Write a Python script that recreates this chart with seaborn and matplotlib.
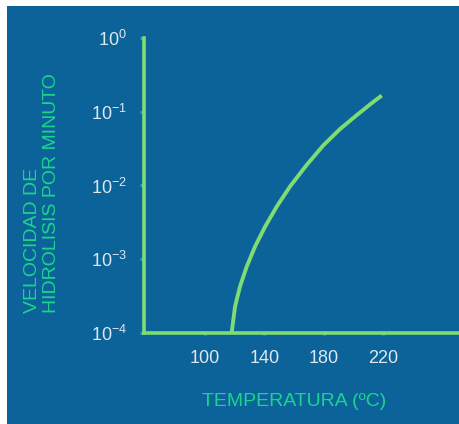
import matplotlib
matplotlib.use("Agg")
import matplotlib.pyplot as plt
import seaborn as sns
import pandas as pd
from matplotlib.patches import Rectangle

# Data
temperatura = [117.9, 120.2, 123.5, 128.0, 133.6, 140.4, 148.2, 157.2,
               168.4, 179.6, 190.8, 202.1, 213.2, 218.9]
velocidad = [1.0e-4, 2.28e-4, 4.25e-4, 7.9e-4, 1.48e-3, 2.76e-3, 5.16e-3, 9.7e-3,
             1.90e-2, 3.50e-2, 5.82e-2, 9.0e-2, 0.136, 0.166]
x_ticks = [100, 140, 180, 220]
y_ticks = [1e-4, 1e-3, 1e-2, 1e-1, 1e0]
y_tick_labels = ["10$^{-4}$", "10$^{-3}$", "10$^{-2}$", "10$^{-1}$", "10$^{0}$"]
x_label = "TEMPERATURA (ºC)"
y_label = "VELOCIDAD DE\nHIDROLISIS POR MINUTO"

df = pd.DataFrame({"T": temperatura, "v": velocidad})

sns.set_style("ticks")
plt.rcParams["font.family"] = ["Liberation Sans", "DejaVu Sans"]
plt.rcParams["mathtext.fontset"] = "custom"
plt.rcParams["mathtext.rm"] = "Liberation Sans"
plt.rcParams["mathtext.it"] = "Liberation Sans"
plt.rcParams["mathtext.default"] = "regular"

BG = "#0c6399"
GREEN = "#7ddc74"
LABEL_GREEN = "#19d68c"
TICK_BLUE = "#1c9fe2"
TEXT = "#dde7ef"

W, H = 459, 424
fig = plt.figure(figsize=(W / 100, H / 100), dpi=100)
fig.patch.set_facecolor("white")
fig.patches.append(Rectangle((7 / W, 0), 1 - 7 / W, (H - 6) / H,
                             transform=fig.transFigure, facecolor=BG,
                             edgecolor="none", zorder=-10))

ax = fig.add_axes([143.5 / W, (H - 333) / H, 1 - 143.5 / W, (333 - 38) / H])
ax.set_facecolor("none")

sns.lineplot(data=df, x="T", y="v", ax=ax, color=GREEN, linewidth=2.8,
             solid_capstyle="butt", solid_joinstyle="round", clip_on=False)

ax.set_yscale("log")
ax.set_xlim(58.6, 270.9)
ax.set_ylim(1e-4, 1)
ax.set_xticks(x_ticks)
ax.set_xticklabels([str(t) for t in x_ticks])
ax.set_yticks(y_ticks)
ax.set_yticklabels(y_tick_labels)
ax.yaxis.set_minor_locator(matplotlib.ticker.NullLocator())

for s in ["top", "right"]:
    ax.spines[s].set_visible(False)
for s in ["left", "bottom"]:
    ax.spines[s].set_color(GREEN)
    ax.spines[s].set_linewidth(2.6)
    ax.spines[s].set_capstyle("projecting")

ax.tick_params(axis="y", direction="out", length=3, width=2.2, color=TICK_BLUE,
               labelcolor=TEXT, labelsize=13, pad=9)
ax.tick_params(axis="x", direction="inout", length=3, width=2.2, color=TICK_BLUE,
               labelcolor=TEXT, labelsize=13, pad=11)

ax.set_xlabel(x_label, color=LABEL_GREEN, fontsize=14)
ax.xaxis.set_label_coords((294 - 143.5) / (W - 143.5), -60 / 295)
ax.set_ylabel(y_label, color=LABEL_GREEN, fontsize=14, multialignment="left",
              linespacing=1.1)
ax.yaxis.set_label_coords(-84 / (W - 143.5), (333 - 193) / 295)

fig.savefig("out.png", dpi=100)
